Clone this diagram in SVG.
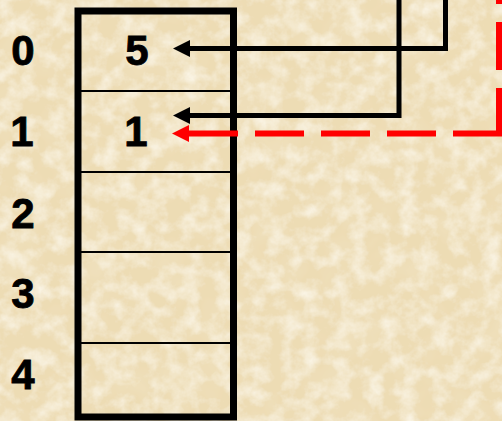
<svg xmlns="http://www.w3.org/2000/svg" width="502" height="421" viewBox="0 0 502 421">
  <defs>
    <filter id="paper" x="0" y="0" width="100%" height="100%">
      <feTurbulence type="fractalNoise" baseFrequency="0.06" numOctaves="4" seed="11" result="n"/>
      <feColorMatrix in="n" type="matrix" values="0 0 0 0 0.97  0 0 0 0 0.93  0 0 0 0 0.82  1.6 0 0 0 -0.62" result="light"/>
      <feTurbulence type="fractalNoise" baseFrequency="0.025" numOctaves="3" seed="3" result="m"/>
      <feColorMatrix in="m" type="matrix" values="0 0 0 0 0.89  0 0 0 0 0.78  0 0 0 0 0.55  1.2 0 0 0 -0.55" result="dark"/>
      <feMerge>
        <feMergeNode in="SourceGraphic"/>
        <feMergeNode in="dark"/>
        <feMergeNode in="light"/>
      </feMerge>
    </filter>
    <marker id="ahB" markerWidth="17" markerHeight="17" viewBox="0 0 17 17" refX="0" refY="8.5" orient="auto-start-reverse" markerUnits="userSpaceOnUse">
      <path d="M17 8.5 L0 0 L0 17 Z" fill="#000"/>
    </marker>
    <marker id="ahR" markerWidth="17" markerHeight="17" viewBox="0 0 17 17" refX="0" refY="8.5" orient="auto-start-reverse" markerUnits="userSpaceOnUse">
      <path d="M17 8.5 L0 0 L0 17 Z" fill="#ff0000"/>
    </marker>
    <style>
      .lbl { font-family: "Liberation Sans", Arial, sans-serif; font-weight: bold; font-size: 42px; fill: #000; stroke: #000; stroke-width: 0.8; text-anchor: middle; }
      .div { stroke: #000; stroke-width: 2; }
      .blk { stroke: #000; stroke-width: 5; fill: none; }
      .red { stroke: #ff0000; stroke-width: 6; fill: none; }
    </style>
  </defs>
  <rect x="0" y="0" width="502" height="421" fill="#eddcb4" filter="url(#paper)"/>

  <g id="array">
    <rect x="78" y="11" width="155.5" height="406" fill="none" stroke="#000" stroke-width="7"/>
    <line class="div" x1="81" y1="91" x2="230" y2="91"/>
    <line class="div" x1="81" y1="172" x2="230" y2="172"/>
    <line class="div" x1="81" y1="252" x2="230" y2="252"/>
    <line class="div" x1="81" y1="343" x2="230" y2="343"/>
  </g>

  <g id="indices">
    <text class="lbl" x="23" y="65">0</text>
    <text class="lbl" x="22" y="146">1</text>
    <text class="lbl" x="23" y="228">2</text>
    <text class="lbl" x="23" y="308">3</text>
    <text class="lbl" x="23" y="389">4</text>
  </g>

  <g id="values">
    <text class="lbl" x="137" y="65">5</text>
    <text class="lbl" x="136" y="146">1</text>
  </g>

  <g id="connectors">
    <path class="blk" d="M445.5 0 L445.5 48.5 L190 48.5" marker-end="url(#ahB)"/>
    <path class="blk" d="M399 0 L399 115.5 L190 115.5" marker-end="url(#ahB)"/>
    <line class="red" x1="499" y1="136" x2="499" y2="0" stroke-dasharray="48 18"/>
    <line class="red" x1="189" y1="133.5" x2="502" y2="133.5" stroke-dasharray="49 17" marker-start="url(#ahR)"/>
  </g>
</svg>
